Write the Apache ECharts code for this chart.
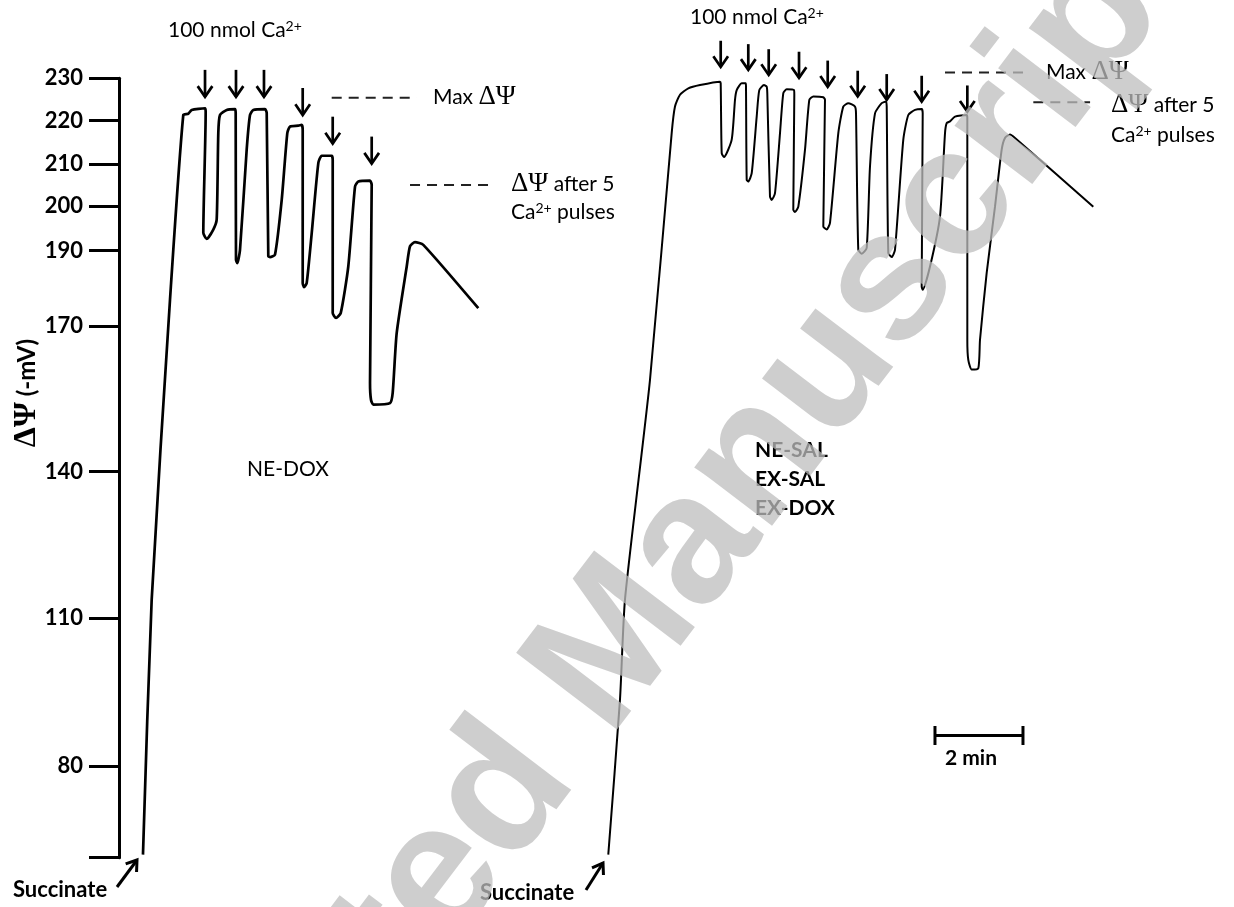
<!DOCTYPE html>
<html><head><meta charset="utf-8">
<script src="https://cdn.jsdelivr.net/npm/echarts@6.0.0/dist/echarts.min.js"></script>
<style>html,body{margin:0;padding:0;background:#fff}#c{width:1234px;height:907px}</style>
</head><body><div id="c"></div>
<script>
// ---- y axis: printed tick labels (mV) and where the printed (non-linear) axis puts them
const yTickLabels = [80, 110, 140, 170, 190, 200, 210, 220, 230];
const yTickPlacement = [80, 112.2, 144.2, 176.0, 192.4, 202.2, 211.3, 220.8, 230];

// ---- NE-DOX trace: time (min) and ΔΨ (-mV)
const neDoxTime = [0.545,0.743,1.159,1.461,1.575,1.652,1.955,1.970,1.916,1.993,2.143,2.220,2.257,2.295,2.448,2.636,
  2.652,2.659,2.689,2.75,2.902,2.977,3.052,3.318,3.357,3.393,3.432,3.545,3.698,3.825,3.886,4.075,4.152,
  4.175,4.175,4.205,4.266,4.380,4.530,4.607,4.834,4.857,4.857,4.932,5.039,5.211,5.364,5.439,5.705,
  5.743,5.705,5.727,5.780,6.159,6.220,6.311,6.539,6.614,6.727,6.916,8.166];
const neDoxPsi = [62.0,113.9,176.9,221.3,221.6,222.5,222.9,222.05,194.0,192.6,194.7,196.9,217.2,221.3,222.5,222.7,
  221.8,187.6,186.7,190.2,213.3,221.3,222.5,222.7,221.8,188.5,188.3,188.9,201.4,217.1,218.6,218.8,219.0,
  217.9,181.4,180.3,181.4,193.9,210.2,211.9,211.9,211.0,173.4,172.1,173.4,185.8,204.6,205.8,206.0,
  205.0,158.2,154.8,153.8,154.1,156.2,168.5,185.8,191.0,191.9,191.3,174.7];

// ---- NE-SAL / EX-SAL / EX-DOX trace
const salTime = [11.12,11.386,11.5,12.068,12.561,12.636,12.75,12.939,13.205,13.659,
  13.675,13.698,13.75,13.925,14.0,14.039,14.152,14.243,
  14.25,14.266,14.302,14.38,14.493,14.552,14.659,14.72,
  14.734,14.795,14.834,14.909,15.023,15.098,15.175,15.341,
  15.348,15.325,15.364,15.439,15.591,15.689,15.780,16.007,
  16.045,16.007,16.084,16.159,16.348,16.461,16.575,16.727,
  16.75,16.802,16.88,16.993,17.068,17.182,17.334,17.432,
  17.448,17.484,17.561,17.636,17.825,17.939,18.091,18.243,
  18.266,18.243,18.266,18.432,18.659,18.773,18.811,18.886,19.0,19.266,
  19.28,19.28,19.302,19.38,19.53,19.568,19.72,19.909,20.061,20.136,20.25,20.364,22.143];
const salPsi = [62.0,93.5,113.9,158.9,217.1,223.3,226.1,227.6,228.4,229.2,
  228.8,212.5,211.6,215.6,224.9,227.2,228.8,228.8,
  228.0,206.2,205.8,207.8,220.9,227.2,228.4,228.0,
  226.5,202.2,201.4,203.0,217.1,226.5,227.4,227.2,
  226.1,199.1,198.6,199.8,213.3,224.9,225.7,225.5,
  224.9,195.4,194.7,196.2,217.1,223.3,224.1,223.3,
  221.7,190.2,189.2,190.6,209.4,221.7,224.1,224.5,
  223.3,189.4,188.3,190.2,215.6,221.3,222.5,222.7,
  221.7,180.5,179.6,185.8,197.6,217.1,219.4,219.8,220.9,221.3,
  220.6,167.1,163.0,161.0,161.3,167.1,184.1,199.8,213.3,216.0,216.8,216.0,199.8];

// ---- Ca2+ pulse arrows: time, arrow tail and tip (-mV)
const neDoxPulseTime = [1.955, 2.659, 3.295, 4.175, 4.857, 5.743];
const neDoxPulseTail = [232.0, 232.0, 232.0, 227.7, 220.9, 216.3];
const neDoxPulseTip  = [225.6, 225.6, 225.6, 221.3, 214.7, 210.1];
const salPulseTime = [13.675, 14.302, 14.766, 15.455, 16.107, 16.789, 17.448, 18.243, 19.28];
const salPulseTail = [238.9, 238.1, 236.9, 236.3, 234.2, 231.8, 231.0, 230.6, 228.3];
const salPulseTip  = [232.7, 232.0, 230.8, 230.1, 228.0, 225.7, 224.9, 224.5, 222.1];

// ---- dashed reference marks: start time, end time, level (-mV)
const refStart = [4.834, 6.614, 18.773, 20.78];
const refEnd   = [6.766, 8.5, 20.63, 22.07];
const refLevel = [225.4, 205.0, 231.4, 224.3];

// ---- time scale bar (2 min)
const scaleBarStart = [18.545];
const scaleBarLength = [2];
const scaleBarLevel = [86.2];

function warp(v) {
  const a = yTickLabels, b = yTickPlacement, n = a.length;
  if (v <= a[0]) return b[0] + (v - a[0]) * (b[1] - b[0]) / (a[1] - a[0]);
  if (v >= a[n - 1]) return b[n - 1] + (v - a[n - 1]) * (b[n - 1] - b[n - 2]) / (a[n - 1] - a[n - 2]);
  for (let i = 0; i < n - 1; i++) {
    if (v >= a[i] && v <= a[i + 1]) return b[i] + (v - a[i]) * (b[i + 1] - b[i]) / (a[i + 1] - a[i]);
  }
  return v;
}
function headPts(x, y, ang, len, spread) {
  return [[x - len * Math.cos(ang - spread), y - len * Math.sin(ang - spread)], [x, y],
          [x - len * Math.cos(ang + spread), y - len * Math.sin(ang + spread)]];
}

const chart = echarts.init(document.getElementById('c'));

const neDoxData = neDoxTime.map((t, i) => [t, warp(neDoxPsi[i])]);
const salData = salTime.map((t, i) => [t, warp(salPsi[i])]);
const pulseData = neDoxPulseTime.map((t, i) => [t, warp(neDoxPulseTail[i]), warp(neDoxPulseTip[i])])
  .concat(salPulseTime.map((t, i) => [t, warp(salPulseTail[i]), warp(salPulseTip[i])]));
const refData = refStart.map((s, i) => [s, refEnd[i], warp(refLevel[i])]);
const barData = scaleBarStart.map((s, i) => [s, s + scaleBarLength[i], warp(scaleBarLevel[i])]);

const rich = {
  a: { fontFamily: 'Lato', fontSize: 21, fill: '#000' },
  s: { fontFamily: 'Lato', fontSize: 14, fill: '#000', verticalAlign: 'top' },
  g: { fontFamily: 'Liberation Serif', fontSize: 27, fill: '#000' }
};
function txt(x, y, text, extra) {
  return Object.assign({ type: 'text', x: x, y: y, silent: true,
    style: Object.assign({ text: text, rich: rich, fontFamily: 'Lato', fontSize: 21, fill: '#000',
      align: 'left', verticalAlign: 'middle' }, extra || {}) });
}
function arrowGfx(x1, y1, x2, y2) {
  const ang = Math.atan2(y2 - y1, x2 - x1);
  return { type: 'group', silent: true, children: [
    { type: 'line', shape: { x1: x1, y1: y1, x2: x2, y2: y2 }, style: { stroke: '#000', lineWidth: 3 } },
    { type: 'polyline', shape: { points: headPts(x2, y2, ang, 12, 0.6) }, style: { stroke: '#000', lineWidth: 3, fill: null } }
  ]};
}

const option = {
  backgroundColor: '#fff',
  animation: false,
  grid: { left: 119, right: 15, top: 78.3, bottom: 49.3, containLabel: false },
  xAxis: { type: 'value', min: 0, max: 25, show: false },
  yAxis: {
    type: 'value', min: 60, max: 230,
    axisLine: { show: true, lineStyle: { color: '#000', width: 3 } },
    axisTick: { show: true, length: 30, lineStyle: { color: '#000', width: 3 },
      customValues: [60].concat(yTickPlacement) },
    axisLabel: { show: true, margin: 36, color: '#000', fontFamily: 'Lato', fontWeight: 'bold', fontSize: 22,
      customValues: yTickPlacement,
      formatter: function (v) {
        const i = yTickPlacement.findIndex(p => Math.abs(p - v) < 0.01);
        return i >= 0 ? String(yTickLabels[i]) : '';
      } },
    splitLine: { show: false }
  },
  series: [
    { type: 'line', name: 'NE-DOX', data: neDoxData, symbol: 'none', smooth: 0.2,
      lineStyle: { color: '#000', width: 2.7 }, z: 3 },
    { type: 'line', name: 'NE-SAL / EX-SAL / EX-DOX', data: salData, symbol: 'none', smooth: 0.2,
      lineStyle: { color: '#000', width: 2 }, z: 3 },
    { type: 'custom', name: 'Ca pulses', data: pulseData, clip: false, z: 4,
      renderItem: function (params, api) {
        const a = api.coord([api.value(0), api.value(1)]);
        const b = api.coord([api.value(0), api.value(2)]);
        return { type: 'group', children: [
          { type: 'line', shape: { x1: a[0], y1: a[1], x2: b[0], y2: b[1] }, style: { stroke: '#000', lineWidth: 2.7 } },
          { type: 'polyline', shape: { points: headPts(b[0], b[1], Math.PI / 2, 13, 0.6) },
            style: { stroke: '#000', lineWidth: 2.7, fill: null } }
        ]};
      } },
    { type: 'custom', name: 'reference', data: refData, clip: false, z: 4,
      renderItem: function (params, api) {
        const a = api.coord([api.value(0), api.value(2)]);
        const b = api.coord([api.value(1), api.value(2)]);
        return { type: 'line', shape: { x1: a[0], y1: a[1], x2: b[0], y2: b[1] },
          style: { stroke: '#222', lineWidth: 2, lineDash: [10, 7] } };
      } },
    { type: 'custom', name: 'scale bar', data: barData, clip: false, z: 4,
      renderItem: function (params, api) {
        const a = api.coord([api.value(0), api.value(2)]);
        const b = api.coord([api.value(1), api.value(2)]);
        const st = { stroke: '#000', lineWidth: 3 };
        return { type: 'group', children: [
          { type: 'line', shape: { x1: a[0], y1: a[1], x2: b[0], y2: b[1] }, style: st },
          { type: 'line', shape: { x1: a[0], y1: a[1] - 9.5, x2: a[0], y2: a[1] + 9.5 }, style: st },
          { type: 'line', shape: { x1: b[0], y1: b[1] - 9.5, x2: b[0], y2: b[1] + 9.5 }, style: st }
        ]};
      } }
  ],
  graphic: [
    txt(168, 30, '{a|100 nmol Ca}{s|2+}'),
    txt(690, 17, '{a|100 nmol Ca}{s|2+}'),
    txt(433, 97, '{a|Max }{g|ΔΨ}'),
    txt(1046, 72, '{a|Max }{g|ΔΨ}'),
    txt(511, 184, '{g|ΔΨ}{a| after 5}'),
    txt(511, 212, '{a|Ca}{s|2+}{a| pulses}'),
    txt(1111, 105, '{g|ΔΨ}{a| after 5}'),
    txt(1111, 135, '{a|Ca}{s|2+}{a| pulses}'),
    txt(247, 469, 'NE-DOX', { fontSize: 21 }),
    txt(755, 450, 'NE-SAL', { fontSize: 21, fontWeight: 'bold' }),
    txt(755, 479, 'EX-SAL', { fontSize: 21, fontWeight: 'bold' }),
    txt(755, 508, 'EX-DOX', { fontSize: 21, fontWeight: 'bold' }),
    txt(13, 890, 'Succinate', { fontSize: 22, fontWeight: 'bold' }),
    txt(480, 893, 'Succinate', { fontSize: 22, fontWeight: 'bold' }),
    txt(945, 758, '2 min', { fontSize: 21, fontWeight: 'bold' }),
    arrowGfx(117, 887, 137, 860),
    arrowGfx(586, 890, 603, 863),
    { type: 'text', x: 27, y: 393, rotation: Math.PI / 2, silent: true,
      style: { text: '{g|ΔΨ}{t| (-mV)}', align: 'center', verticalAlign: 'middle', fill: '#000',
        fontFamily: 'Lato', fontSize: 24, fontWeight: 'bold',
        rich: { g: { fontFamily: 'Liberation Serif', fontWeight: 'bold', fontSize: 32, fill: '#000' },
                t: { fontFamily: 'Lato', fontWeight: 'bold', fontSize: 24, fill: '#000' } } } },
    { type: 'text', x: 600, y: 668, rotation: 0.92, silent: true, z: 100,
      style: { text: 'Accepted Manuscript', fontFamily: 'Liberation Sans', fontWeight: 'bold', fontSize: 184,
        fill: 'rgba(190,190,190,0.75)', align: 'center', verticalAlign: 'middle' } }
  ]
};
chart.setOption(option);
</script>
</body></html>
